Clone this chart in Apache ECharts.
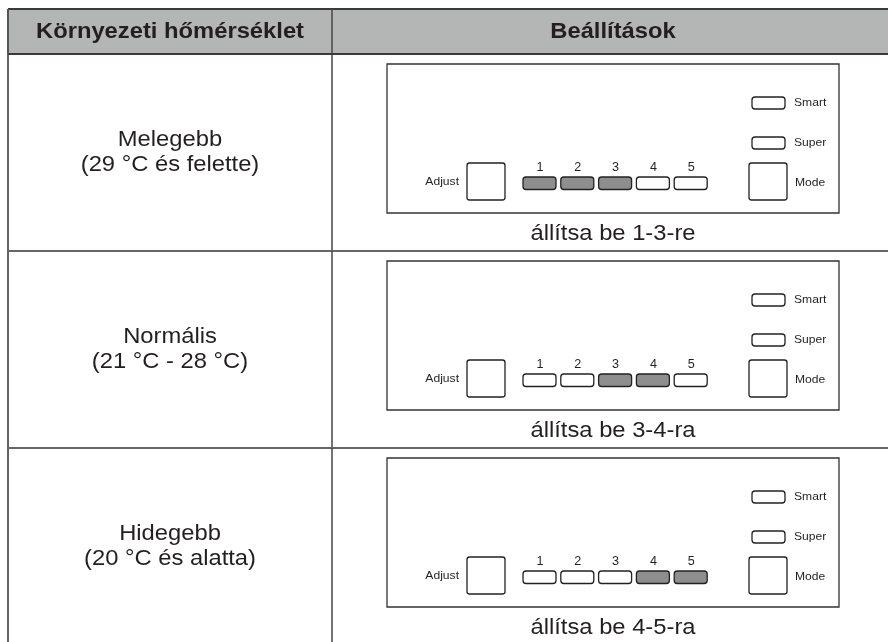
<!DOCTYPE html>
<html><head><meta charset="utf-8">
<script src="https://cdn.jsdelivr.net/npm/echarts@6/dist/echarts.min.js"></script>
<style>html,body{margin:0;padding:0;background:#fff}#c{width:888px;height:642px}</style>
</head><body><div id="c"></div>
<script>
// ---- data ----
const headers = ['Környezeti hőmérséklet', 'Beállítások'];
const conditions = ['Melegebb', 'Normális', 'Hidegebb'];
const ranges = ['(29 °C és felette)', '(21 °C - 28 °C)', '(20 °C és alatta)'];
const captions = ['állítsa be 1-3-re', 'állítsa be 3-4-ra', 'állítsa be 4-5-ra'];
const levels = ['1', '2', '3', '4', '5'];
const activeLow = [1, 3, 4];
const activeHigh = [3, 4, 5];
const indicators = ['Smart', 'Super'];
const buttons = ['Adjust', 'Mode'];

// ---- layout (units of the hidden axes) ----
const L = {
  left: 8, divider: 332, right: 895, headTop: 9, headBottom: 54, rowH: 197,
  col1C: 170, col2C: 613,
  panelL: 387, panelR: 839, panelDy: 10, panelH: 149,
  capDy: 180, lab1Dy: 86, lab2Dy: 111
};
const INK = '#231f20';
const BODY = '22px "Liberation Sans", Arial, sans-serif';
const HEAD = 'bold 22px "Liberation Sans", Arial, sans-serif';
const SMALL = '11px "Liberation Sans", Arial, sans-serif';
const SX = 1.08, SXS = 1.1;

function helpers(api) {
  const pt = (x, y) => api.coord([x, y]);
  const rect = (x, y, w, h, r, fill, stroke, lw) => {
    const a = pt(x, y), b = pt(x + w, y + h);
    return { type: 'rect', shape: { x: a[0], y: a[1], width: b[0] - a[0], height: b[1] - a[1], r: r },
      style: { fill: fill, stroke: stroke, lineWidth: lw } };
  };
  const line = (x1, y1, x2, y2, stroke, lw) => {
    const a = pt(x1, y1), b = pt(x2, y2);
    return { type: 'line', shape: { x1: a[0], y1: a[1], x2: b[0], y2: b[1] },
      style: { stroke: stroke, lineWidth: lw } };
  };
  const text = (x, y, s, font, align, sx) => {
    const a = pt(x, y);
    return { type: 'text', x: a[0], y: a[1], scaleX: sx,
      style: { text: s, x: 0, y: 0, font: font, fill: INK, align: align, verticalAlign: 'middle' } };
  };
  return { pt, rect, line, text };
}

function renderHeader(params, api) {
  const h = helpers(api);
  const c = [];
  c.push(h.rect(L.left, L.headTop, L.right - L.left, L.headBottom - L.headTop, 0, '#b4b6b5', null, 0));
  c.push(h.line(L.left, L.headTop, L.right, L.headTop, '#3a3a3a', 2));
  c.push(h.line(L.left, L.headBottom, L.right, L.headBottom, '#3a3a3a', 2));
  c.push(h.line(L.left, L.headTop, L.left, L.headBottom, '#555', 2));
  c.push(h.line(L.divider, L.headTop, L.divider, L.headBottom, '#444', 1.5));
  c.push(h.text(L.col1C, 32, headers[0], HEAD, 'center', SX));
  c.push(h.text(L.col2C, 32, headers[1], HEAD, 'center', SX));
  return { type: 'group', children: c };
}

function renderRow(params, api) {
  const h = helpers(api);
  const i = api.value(0);
  const top = L.headBottom + i * L.rowH;
  const bot = top + L.rowH;
  const c = [];
  // cell borders
  c.push(h.line(L.left, top, L.left, bot, '#666', 2));
  c.push(h.line(L.divider, top, L.divider, bot, '#444', 1.5));
  c.push(h.line(L.left, bot, L.right, bot, '#666', 2));
  // condition labels
  c.push(h.text(L.col1C, top + L.lab1Dy, conditions[i], BODY, 'center', SX));
  c.push(h.text(L.col1C, top + L.lab2Dy, ranges[i], BODY, 'center', SX));
  // control panel
  const pl = L.panelL, pt0 = top + L.panelDy;
  c.push(h.rect(pl, pt0, L.panelR - pl, L.panelH, 0, '#fff', '#333', 1.3));
  // indicators (Smart / Super)
  indicators.forEach((name, k) => {
    const y = pt0 + 33 + k * 40;
    c.push(h.rect(pl + 365, y, 33, 12, 3, '#fff', '#222', 1.3));
    c.push(h.text(pl + 407, y + 6, name, SMALL, 'left', SXS));
  });
  // buttons
  c.push(h.rect(pl + 80, pt0 + 99, 38, 37, 2.5, '#fff', '#222', 1.3));
  c.push(h.text(pl + 72, pt0 + 118, buttons[0], SMALL, 'right', SXS));
  c.push(h.rect(pl + 362, pt0 + 99, 38, 37, 2.5, '#fff', '#222', 1.3));
  c.push(h.text(pl + 408, pt0 + 119, buttons[1], SMALL, 'left', SXS));
  // level LEDs
  levels.forEach((lv, k) => {
    const x = pl + 136 + k * 37.8;
    const n = k + 1;
    const on = n >= activeLow[i] && n <= activeHigh[i];
    c.push(h.rect(x, pt0 + 113, 33, 12.5, 3, on ? '#8e8e8e' : '#fff', '#222', 1.3));
    c.push(h.text(x + 17, pt0 + 104, lv, '12px "Liberation Sans", Arial, sans-serif', 'center', 1.05));
  });
  // caption
  c.push(h.text(L.col2C, top + L.capDy, captions[i], BODY, 'center', SX));
  return { type: 'group', children: c };
}

const chart = echarts.init(document.getElementById('c'), null, { renderer: 'canvas' });
chart.setOption({
  animation: false,
  backgroundColor: '#fff',
  grid: { left: 0, right: 0, top: 0, bottom: 0 },
  xAxis: { type: 'value', min: 0, max: 888, show: false },
  yAxis: { type: 'value', min: 0, max: 642, inverse: true, show: false },
  series: [
    { type: 'custom', clip: false, silent: true, renderItem: renderRow,
      data: conditions.map((_, i) => [i]) },
    { type: 'custom', clip: false, silent: true, renderItem: renderHeader, data: [[0]] }
  ]
});
</script></body></html>
